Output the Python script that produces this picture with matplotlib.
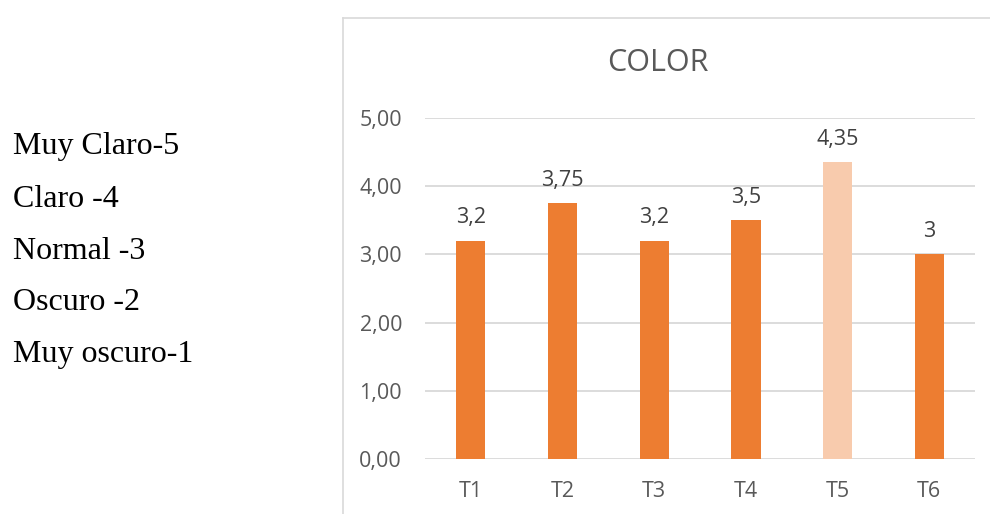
import matplotlib.pyplot as plt
from matplotlib.lines import Line2D

# Datos
tratamientos = ['T1', 'T2', 'T3', 'T4', 'T5', 'T6']
color_valores = [3.2, 3.75, 3.2, 3.5, 4.35, 3.0]
etiquetas = ['3,2', '3,75', '3,2', '3,5', '4,35', '3']
escala = ['Muy Claro-5', 'Claro -4', 'Normal -3', 'Oscuro -2', 'Muy oscuro-1']
ticks_y = [0, 1, 2, 3, 4, 5]
ticks_y_txt = ['0,00', '1,00', '2,00', '3,00', '4,00', '5,00']

naranja = '#ed7d31'
naranja_claro = '#f8cbad'
colores = [naranja_claro if t == 'T5' else naranja for t in tratamientos]

plt.rcParams['font.family'] = ['Open Sans', 'DejaVu Sans']

fig = plt.figure(figsize=(9.9, 5.14), dpi=100)

# Marco del grafico (recortado a la derecha y abajo)
fx = 343 / 990
fy = 1 - 18 / 514
fig.add_artist(Line2D([fx, fx], [0, fy], color='#d9d9d9', lw=1.2, transform=fig.transFigure))
fig.add_artist(Line2D([fx, 1], [fy, fy], color='#d9d9d9', lw=1.2, transform=fig.transFigure))

ax = fig.add_axes([425 / 990, 1 - 459 / 514, 550 / 990, (459 - 118) / 514])
x = range(len(tratamientos))
barras = ax.bar(x, color_valores, width=0.32, color=colores, zorder=3)

for b, txt in zip(barras, etiquetas):
    ax.annotate(txt, (b.get_x() + b.get_width() / 2, b.get_height()),
                xytext=(0, 9), textcoords='offset points',
                ha='center', va='bottom', fontsize=15.5, color='#404040')

ax.set_xlim(-0.5, len(tratamientos) - 0.5)
ax.set_ylim(0, 5)
ax.set_yticks(ticks_y)
ax.set_yticklabels(ticks_y_txt)
ax.set_xticks(list(x))
ax.set_xticklabels(tratamientos)
ax.tick_params(axis='y', length=0, pad=16.5, labelsize=15.5, labelcolor='#595959')
ax.tick_params(axis='x', length=0, pad=15.5, labelsize=15.5, labelcolor='#595959')
ax.grid(axis='y', color='#d9d9d9', lw=1.3, zorder=0)
for s in ax.spines.values():
    s.set_visible(False)

fig.text(658 / 990, 1 - 63 / 514, 'COLOR', ha='center', va='center',
         fontsize=22, color='#595959')

# Escala de color a la izquierda
baselines = [154, 207, 259, 310.5, 362]
for txt, yb in zip(escala, baselines):
    fig.text(13 / 990, 1 - yb / 514, txt, ha='left', va='baseline',
             fontsize=23, family=['Liberation Serif', 'DejaVu Serif'], color='black')

fig.savefig('out.png', dpi=100)
